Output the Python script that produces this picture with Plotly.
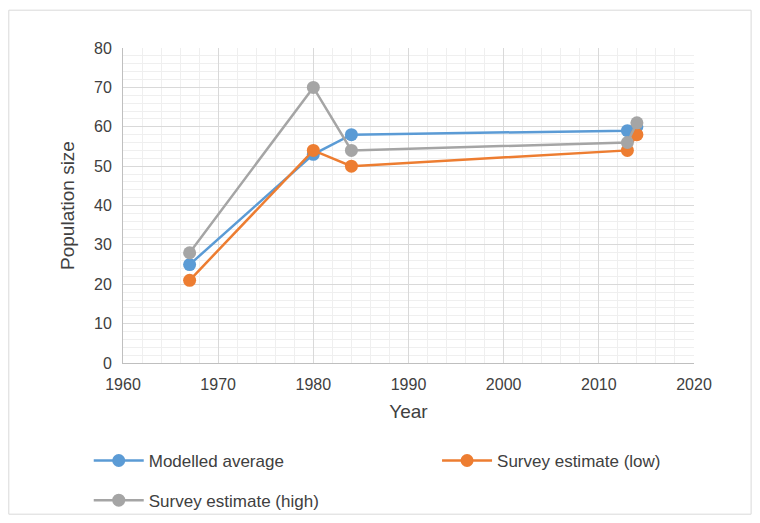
import plotly.graph_objects as go

years = [1967, 1980, 1984, 2013, 2014]
modelled = [25, 53, 58, 59, 60]
low = [21, 54, 50, 54, 58]
high = [28, 70, 54, 56, 61]
names = ["Modelled average", "Survey estimate (low)", "Survey estimate (high)"]
colors = ["#5B9BD5", "#ED7D31", "#A5A5A5"]
legs = ["legend2", "legend3", "legend4"]

fig = go.Figure()
for n, v, c, lg in zip(names, [modelled, low, high], colors, legs):
    fig.add_trace(go.Scatter(x=years, y=v, name=n, mode="lines+markers", legend=lg,
                             line=dict(color=c, width=2.5), marker=dict(size=13, color=c)))
ax = dict(showline=True, linecolor="#BFBFBF", gridcolor="#D9D9D9", zeroline=False,
          ticks="outside", ticklen=7, tickcolor="rgba(0,0,0,0)", automargin=False,
          tickfont=dict(size=16, color="#404040"))
lg = dict(orientation="h", xanchor="left", yanchor="middle",
          font=dict(size=17, color="#404040"), itemwidth=50, bgcolor="rgba(0,0,0,0)")
fig.update_layout(
    width=744, height=523, paper_bgcolor="white", plot_bgcolor="white",
    margin=dict(l=115, r=58, t=40, b=165),
    font=dict(family="Liberation Sans, Arial", color="#404040"),
    xaxis=dict(ax, range=[1960, 2020], dtick=10, minor=dict(dtick=2, showgrid=True, gridcolor="#EFEFEF"),
               title=dict(text="Year", font=dict(size=19), standoff=12)),
    yaxis=dict(ax, range=[0, 80], dtick=10, minor=dict(dtick=2, showgrid=True, gridcolor="#EFEFEF"),
               title=dict(text="Population size", font=dict(size=19), standoff=14)),
    legend2=dict(lg, x=-0.06, y=-0.311),
    legend3=dict(lg, x=0.55, y=-0.311),
    legend4=dict(lg, x=-0.06, y=-0.437),
    shapes=[dict(type="rect", xref="paper", yref="paper", x0=-0.2, x1=1.1, y0=-0.48, y1=1.12,
                 line=dict(color="#D9D9D9", width=1))],
)
fig.write_html("out.html")
